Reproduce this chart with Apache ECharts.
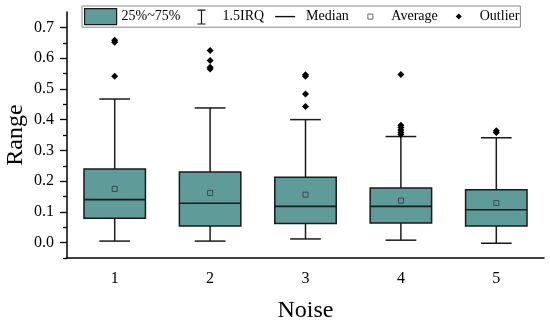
<!DOCTYPE html>
<html>
<head>
<meta charset="utf-8">
<script src="https://cdn.jsdelivr.net/npm/echarts@6/dist/echarts.min.js"></script>
<style>html,body{margin:0;padding:0;background:#fff}#c{width:550px;height:326px}</style>
</head>
<body>
<div id="c"></div>
<script>
// ---- data ----
const categories = ['1', '2', '3', '4', '5'];
const whiskerLow = [0.005, 0.005, 0.012, 0.008, -0.002];
const q1 = [0.079, 0.054, 0.062, 0.064, 0.054];
const median = [0.140, 0.128, 0.118, 0.118, 0.107];
const q3 = [0.2395, 0.230, 0.2125, 0.178, 0.172];
const whiskerHigh = [0.467, 0.438, 0.400, 0.345, 0.341];
const average = [0.1745, 0.1615, 0.156, 0.1365, 0.129];
const outliers = [
  [0, 0.658], [0, 0.652], [0, 0.541],
  [1, 0.625], [1, 0.592], [1, 0.570], [1, 0.565],
  [2, 0.546], [2, 0.541], [2, 0.483], [2, 0.443],
  [3, 0.547], [3, 0.382], [3, 0.374], [3, 0.366], [3, 0.358], [3, 0.352],
  [4, 0.364], [4, 0.358]
];
const yMajorTicks = [0, 0.1, 0.2, 0.3, 0.4, 0.5, 0.6, 0.7];
const yMinorTicks = [-0.05, 0.05, 0.15, 0.25, 0.35, 0.45, 0.55, 0.65];

const FONT = 'Liberation Serif';
const FILL = '#5f9b98';
const EDGE = '#1a1a1a';

const boxData = categories.map((c, i) => [i, q1[i], q3[i]]);
const whiskerData = categories.map((c, i) => [i, whiskerLow[i], whiskerHigh[i], q1[i], q3[i]]);
const medianData = categories.map((c, i) => [i, median[i]]);
const avgData = categories.map((c, i) => [i, average[i]]);

const chart = echarts.init(document.getElementById('c'));
chart.setOption({
  animation: false,
  grid: { left: 67, right: 6, top: 12, bottom: 68, containLabel: false, outerBoundsMode: 'none' },
  legend: {
    left: 82, top: 6,
    orient: 'horizontal',
    itemWidth: 32, itemHeight: 16, itemGap: 5,
    padding: [2, 1, 2, 2],
    borderColor: '#888', borderWidth: 1,
    textStyle: { fontFamily: FONT, fontSize: 14, color: '#000' },
    data: [
      { name: '25%~75%', icon: 'rect', itemStyle: { color: FILL, borderColor: EDGE, borderWidth: 1.2 } },
      { name: '1.5IRQ', icon: 'path://M0,0M32,16M12,1H20V2.2H16.6V14.8H20V16H12V14.8H15.4V2.2H12Z', itemStyle: { color: '#111', borderWidth: 0 } },
      { name: 'Median', icon: 'path://M0,0M32,16M6,7.3H26V8.7H6Z', itemStyle: { color: '#111', borderWidth: 0 } },
      { name: 'Average', icon: 'path://M0,0M32,16M13.5,5.5H18.5V10.5H13.5Z', itemStyle: { color: '#fff', borderColor: '#666', borderWidth: 1 } },
      { name: 'Outlier', icon: 'path://M0,0M32,16M16,5L19,8L16,11L13,8Z', itemStyle: { color: '#000', borderWidth: 0 } }
    ]
  },
  xAxis: {
    type: 'category',
    data: categories,
    boundaryGap: true,
    name: 'Noise',
    nameLocation: 'middle',
    nameGap: 41,
    nameMoveOverlap: false,
    nameTextStyle: { fontFamily: FONT, fontSize: 24, color: '#000' },
    axisLine: { onZero: false, lineStyle: { color: '#000', width: 1.5 } },
    axisTick: { alignWithLabel: true, length: 6, lineStyle: { color: '#000', width: 1.5 } },
    axisLabel: { fontFamily: FONT, fontSize: 16, color: '#000', margin: 13 },
    splitLine: { show: false }
  },
  yAxis: [{
    type: 'value',
    min: -0.05, max: 0.75,
    name: 'Range',
    nameLocation: 'middle',
    nameGap: 39,
    nameMoveOverlap: false,
    nameTextStyle: { fontFamily: FONT, fontSize: 24, color: '#000' },
    axisLine: { show: true, lineStyle: { color: '#000', width: 1.5 } },
    axisTick: { show: true, length: 7, customValues: yMajorTicks, lineStyle: { color: '#000', width: 1.3 } },
    axisLabel: { fontFamily: FONT, fontSize: 16, color: '#000', margin: 13, customValues: yMajorTicks,
      formatter: v => v.toFixed(1) },
    splitLine: { show: false }
  }, {
    type: 'value',
    min: -0.05, max: 0.75,
    position: 'left',
    offset: 0,
    axisLine: { show: false },
    axisTick: { show: true, length: 4, customValues: yMinorTicks, lineStyle: { color: '#000', width: 1.3 } },
    axisLabel: { show: false },
    splitLine: { show: false }
  }],
  series: [
    {
      name: '1.5IRQ', type: 'custom', data: whiskerData, z: 2,
      itemStyle: { color: '#111' },
      renderItem: (params, api) => {
        const x = api.value(0);
        const lo = api.coord([x, api.value(1)]);
        const hi = api.coord([x, api.value(2)]);
        const b1 = api.coord([x, api.value(3)]);
        const b3 = api.coord([x, api.value(4)]);
        const band = api.size([1, 0])[0];
        const hw = band * 0.161;
        const st = { stroke: EDGE, lineWidth: 1.5, fill: null };
        return { type: 'group', children: [
          { type: 'line', shape: { x1: lo[0], y1: lo[1], x2: b1[0], y2: b1[1] }, style: st },
          { type: 'line', shape: { x1: hi[0], y1: hi[1], x2: b3[0], y2: b3[1] }, style: st },
          { type: 'line', shape: { x1: lo[0] - hw, y1: lo[1], x2: lo[0] + hw, y2: lo[1] }, style: st },
          { type: 'line', shape: { x1: hi[0] - hw, y1: hi[1], x2: hi[0] + hw, y2: hi[1] }, style: st }
        ]};
      }
    },
    {
      name: '25%~75%', type: 'custom', data: boxData, z: 3,
      itemStyle: { color: FILL },
      renderItem: (params, api) => {
        const x = api.value(0);
        const a = api.coord([x, api.value(1)]);
        const b = api.coord([x, api.value(2)]);
        const band = api.size([1, 0])[0];
        const hw = band * 0.322;
        return { type: 'rect', shape: { x: a[0] - hw, y: b[1], width: hw * 2, height: a[1] - b[1] },
          style: { fill: FILL, stroke: EDGE, lineWidth: 1.5 } };
      }
    },
    {
      name: 'Median', type: 'custom', data: medianData, z: 4,
      itemStyle: { color: '#111' },
      renderItem: (params, api) => {
        const p = api.coord([api.value(0), api.value(1)]);
        const band = api.size([1, 0])[0];
        const hw = band * 0.322;
        return { type: 'line', shape: { x1: p[0] - hw, y1: p[1], x2: p[0] + hw, y2: p[1] },
          style: { stroke: EDGE, lineWidth: 1.6 } };
      }
    },
    {
      name: 'Average', type: 'scatter', data: avgData, z: 5,
      symbol: 'rect', symbolSize: 5,
      itemStyle: { color: FILL, borderColor: '#3a4a4a', borderWidth: 1, opacity: 1 }
    },
    {
      name: 'Outlier', type: 'scatter', data: outliers, z: 5,
      symbol: 'diamond', symbolSize: 7,
      itemStyle: { color: '#000', opacity: 1 }
    }
  ]
});
</script>
</body>
</html>
